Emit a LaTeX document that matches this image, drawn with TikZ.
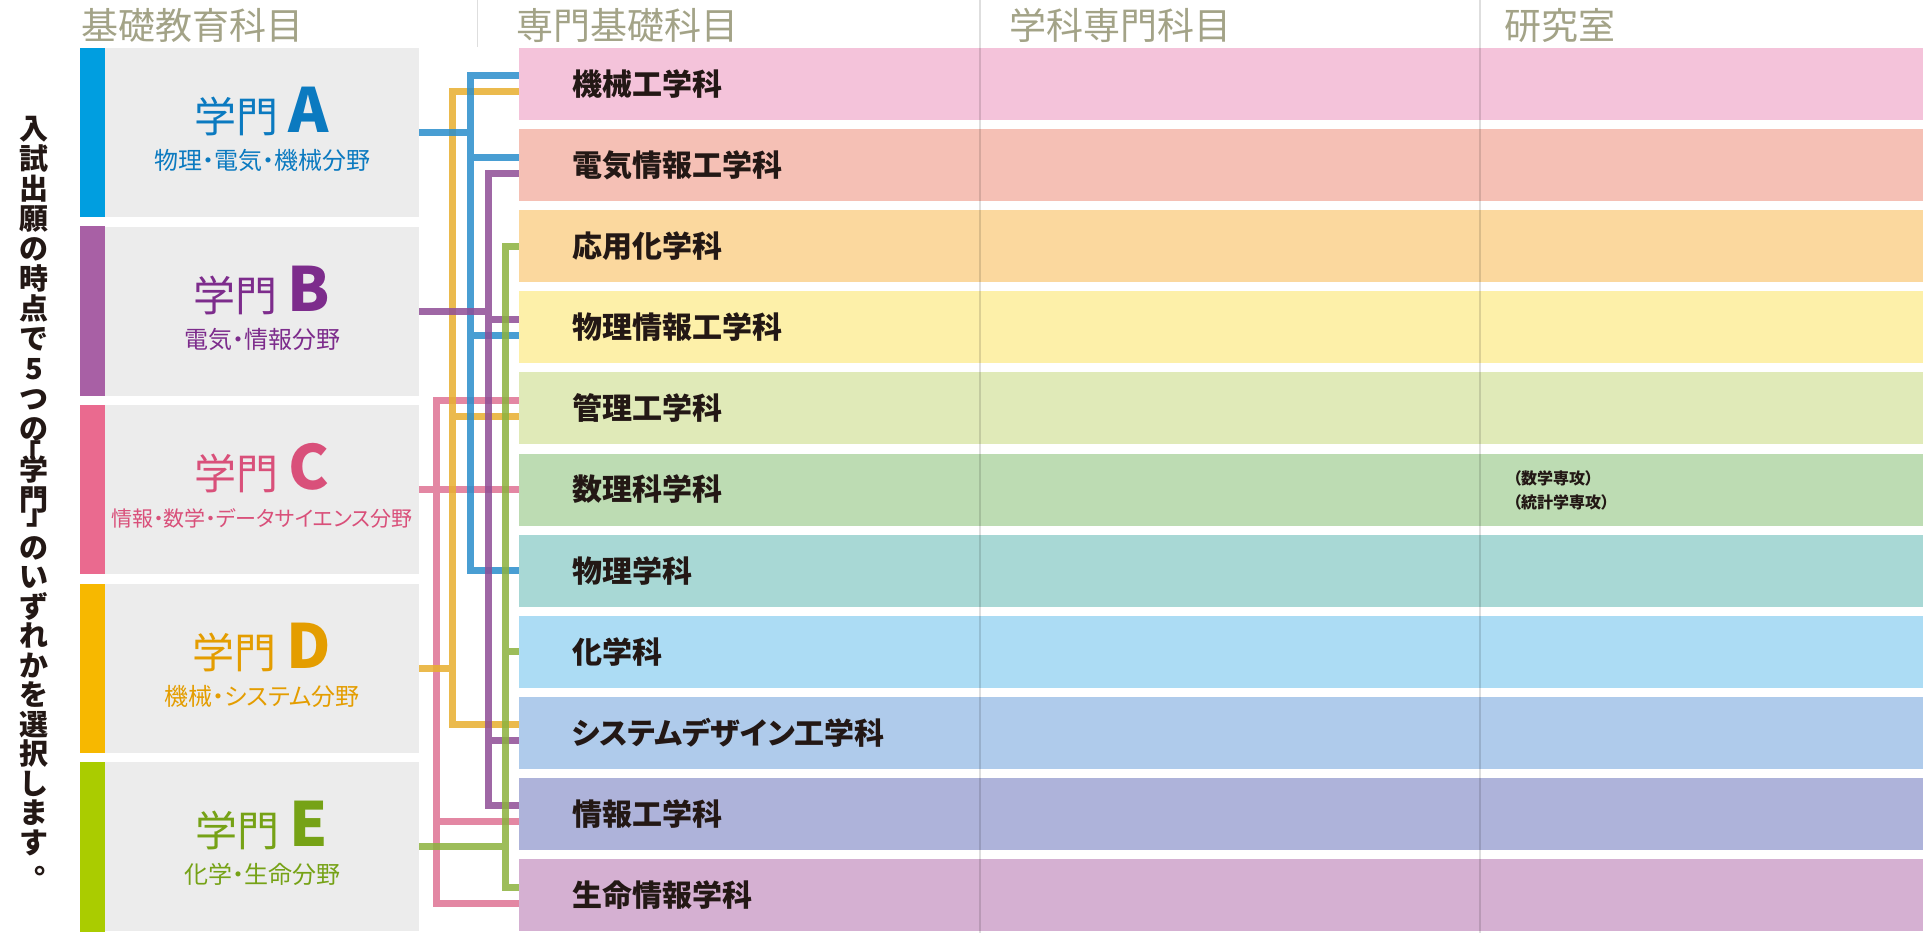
\documentclass[tikz,border=0pt]{standalone}
\usepackage{fontspec}
\setmainfont{Noto Sans CJK JP}
\newfontfamily\jpp[RawFeature=+palt]{Noto Sans CJK JP}
\usetikzlibrary{calc}
\definecolor{hdr}{RGB}{163,163,135}
\definecolor{boxgray}{RGB}{236,236,236}
\definecolor{ink}{RGB}{35,24,21}
\definecolor{barA}{RGB}{0,158,224}\definecolor{txtA}{RGB}{11,122,192}
\definecolor{barB}{RGB}{168,96,165}\definecolor{txtB}{RGB}{125,44,140}
\definecolor{barC}{RGB}{234,106,143}\definecolor{txtC}{RGB}{217,80,122}
\definecolor{barD}{RGB}{247,184,0}\definecolor{txtD}{RGB}{228,157,0}
\definecolor{barE}{RGB}{170,204,0}\definecolor{txtE}{RGB}{118,162,22}
\definecolor{lnblue}{RGB}{42,142,204}
\definecolor{lnyellow}{RGB}{232,175,47}
\definecolor{lnpurple}{RGB}{143,77,150}
\definecolor{lngreen}{RGB}{140,178,62}
\definecolor{lnpink}{RGB}{223,115,147}
\definecolor{b1}{RGB}{244,195,218}
\definecolor{b2}{RGB}{245,192,181}
\definecolor{b3}{RGB}{251,216,158}
\definecolor{b4}{RGB}{253,240,169}
\definecolor{b5}{RGB}{224,234,184}
\definecolor{b6}{RGB}{189,220,179}
\definecolor{b7}{RGB}{168,216,213}
\definecolor{b8}{RGB}{172,220,244}
\definecolor{b9}{RGB}{175,203,235}
\definecolor{b10}{RGB}{174,179,218}
\definecolor{b11}{RGB}{213,176,210}
\tikzset{
  header/.style={anchor=west,inner sep=0pt,text=hdr,font=\fontsize{37}{37}\selectfont},
  gakubox/.style={fill=boxgray,minimum width=339pt,minimum height=169pt,inner sep=0pt},
  band/.style={inner xsep=53pt,inner ysep=0pt,text width=1298pt,minimum height=72pt,align=left,
     font=\jpp\fontsize{30}{30}\selectfont\bfseries,text=ink},
  ttl/.style={anchor=base,inner sep=0pt},
  sub/.style={anchor=base,inner sep=0pt},
  conn/.style={line width=7pt,draw opacity=0.85},
  sep/.style={draw=black,draw opacity=0.13,line width=1.6pt}
}
\newcommand{\gtitle}[1]{{\fontsize{42}{42}\selectfont 学門}\hspace{10pt}{\fontsize{61}{61}\selectfont\bfseries #1}}
\newcommand{\pbr}[1]{\smash{\jpp #1}}
\begin{document}
\setlength{\lineskiplimit}{-100pt}\setlength{\lineskip}{0pt}
\begin{tikzpicture}[x=1pt,y=-1pt]
\useasboundingbox (0,0) rectangle (1923,933);
\fill[white] (0,0) rectangle (1923,933);
% headers
\node[header] (h1) at (81,25) {基礎教育科目};
\node[header] (h2) at (516,25) {専門基礎科目};
\node[header] (h3) at (1009,25) {学科専門科目};
\node[header] (h4) at (1504,25) {研究室};
% vertical text
\node[anchor=north,align=center,inner sep=0pt,text=ink,font=\fontsize{29}{30}\selectfont\bfseries] (vt) at (34,116)
 {入\\試\\出\\願\\の\\時\\点\\で\\5\\つ\\の\\[-4pt]\pbr{「}\\[-15pt]学\\門\\[-16pt]\pbr{」}\\[4pt]の\\[-0.5pt]い\\[-0.5pt]ず\\[-0.5pt]れ\\[-0.5pt]か\\[-0.5pt]を\\[-0.5pt]選\\[-0.5pt]択\\[-0.5pt]し\\[-0.5pt]ま\\[-0.5pt]す\\[-10pt]\hspace*{14pt}\pbr{。}};
% left boxes
\foreach \n/\y in {A/132.5,B/311.1,C/489.7,D/668.3,E/846.9}{
  \node[gakubox] (box\n) at (249.5,\y) {};
  \fill[bar\n] (box\n.north west) rectangle ($(box\n.south west)+(25,0)$);
}
\node[ttl,text=txtA] (tA1) at ($(boxA.center)+(12.5,0)$) {\gtitle{A}};
\node[ttl,text=txtB] (tB1) at ($(boxB.center)+(12.5,0)$) {\gtitle{B}};
\node[ttl,text=txtC] (tC1) at ($(boxC.center)+(12.5,0)$) {\gtitle{C}};
\node[ttl,text=txtD] (tD1) at ($(boxD.center)+(12.5,0)$) {\gtitle{D}};
\node[ttl,text=txtE] (tE1) at ($(boxE.center)+(12.5,0)$) {\gtitle{E}};
\node[sub,text=txtA,font=\jpp\fontsize{24}{24}\selectfont] (sA) at ($(boxA.center)+(12.5,37)$) {物理・電気・機械分野};
\node[sub,text=txtB,font=\jpp\fontsize{24}{24}\selectfont] (sB) at ($(boxB.center)+(12.5,37)$) {電気・情報分野};
\node[sub,text=txtC,font=\jpp\fontsize{21}{21}\selectfont] (sC) at ($(boxC.center)+(12.5,37)$) {情報・数学・データサイエンス分野};
\node[sub,text=txtD,font=\jpp\fontsize{24}{24}\selectfont] (sD) at ($(boxD.center)+(12.5,37)$) {機械・システム分野};
\node[sub,text=txtE,font=\jpp\fontsize{24}{24}\selectfont] (sE) at ($(boxE.center)+(12.5,37)$) {化学・生命分野};
% bands
\foreach \k/\name in {1/機械工学科,2/電気情報工学科,3/応用化学科,4/物理情報工学科,5/管理工学科,6/数理科学科,7/物理学科,8/化学科,9/システムデザイン工学科,10/情報工学科,11/生命情報学科}{
  \node[band,fill=b\k] (dep\k) at (1221,{84+81.1*(\k-1)}) {\name};
}
\node[anchor=west,inner sep=0pt,align=left,text=ink,font=\jpp\fontsize{16}{24}\selectfont\bfseries] (major) at (1513,490) {（数学専攻）\\（統計学専攻）};
% trunk x positions
\coordinate (tC) at (436,0);
\coordinate (tD) at (452,0);
\coordinate (tA) at (470,0);
\coordinate (tB) at (488,0);
\coordinate (tE) at (505,0);
% branch ends
\coordinate (a1) at ($(dep1.west)+(0,-8)$);
\coordinate (a2) at ($(dep2.west)+(0,-8)$);
\coordinate (a4) at ($(dep4.west)+(0,8)$);
\coordinate (a7) at (dep7.west);
\coordinate (d1) at ($(dep1.west)+(0,8)$);
\coordinate (d5) at ($(dep5.west)+(0,8)$);
\coordinate (d9) at ($(dep9.west)+(0,-8)$);
\coordinate (bb2) at ($(dep2.west)+(0,8)$);
\coordinate (bb4) at ($(dep4.west)+(0,-8)$);
\coordinate (bb9) at ($(dep9.west)+(0,8)$);
\coordinate (bb10) at ($(dep10.west)+(0,-8)$);
\coordinate (c5) at ($(dep5.west)+(0,-8)$);
\coordinate (c10) at ($(dep10.west)+(0,8)$);
\coordinate (c11) at ($(dep11.west)+(0,8)$);
\coordinate (e3) at (dep3.west);
\coordinate (e8) at (dep8.west);
\coordinate (e11) at ($(dep11.west)+(0,-8)$);
% connectors
\draw[conn,draw=lnpink] (c5) -| (tC |- c11) -- (c11) (tC |- c10) -- (c10) (boxC.east) -- (boxC.east -| dep6.west);
\draw[conn,draw=lnyellow] (d1) -| (tD |- d9) -- (d9) (tD |- d5) -- (d5) (boxD.east) -- (boxD.east -| tD);
\draw[conn,draw=lnblue] (a1) -| (tA |- a7) -- (a7) (tA |- a2) -- (a2) (tA |- a4) -- (a4) (boxA.east) -- (boxA.east -| tA);
\draw[conn,draw=lnpurple] (bb2) -| (tB |- bb10) -- (bb10) (tB |- bb4) -- (bb4) (tB |- bb9) -- (bb9) (boxB.east) -- (boxB.east -| tB);
\draw[conn,draw=lngreen] (e3) -| (tE |- e11) -- (e11) (tE |- e8) -- (e8) (boxE.east) -- (boxE.east -| tE);
% separators
\draw[sep] (980,0) -- (980,933);
\draw[sep] (1480,0) -- (1480,933);
\draw[sep] (477.5,0) -- (477.5,47);
\end{tikzpicture}
\end{document}
